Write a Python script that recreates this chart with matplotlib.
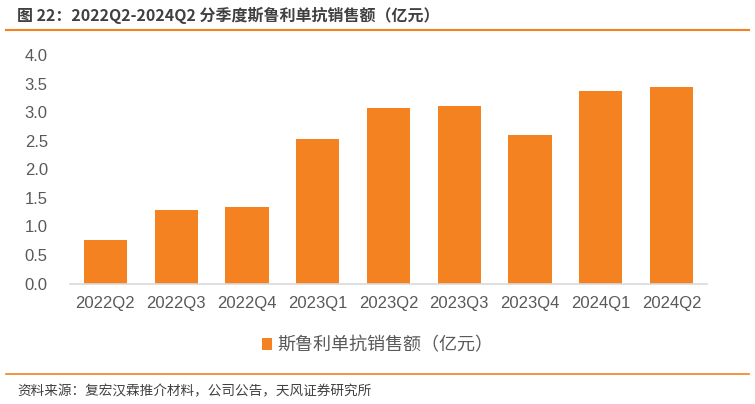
import matplotlib.pyplot as plt
from matplotlib.lines import Line2D

plt.rcParams['font.family'] = ['Liberation Sans', 'Noto Sans CJK SC', 'DejaVu Sans']

quarters = ['2022Q2', '2022Q3', '2022Q4', '2023Q1', '2023Q2',
            '2023Q3', '2023Q4', '2024Q1', '2024Q2']
sales = [0.76, 1.29, 1.34, 2.53, 3.08, 3.10, 2.60, 3.37, 3.44]

orange = '#F58220'
gray = '#595959'

fig = plt.figure(figsize=(7.55, 4.04), dpi=100)
ax = fig.add_axes([70 / 755, 1 - 283.5 / 404, 637 / 755, 228.5 / 404])

ax.bar(quarters, sales, width=0.61, color=orange, label='斯鲁利单抗销售额（亿元）')
ax.set_ylim(0, 4.0)
ax.set_yticks([0, 0.5, 1.0, 1.5, 2.0, 2.5, 3.0, 3.5, 4.0])
ax.set_yticklabels([f'{v:.1f}' for v in ax.get_yticks()])
ax.set_xlim(-0.5, len(quarters) - 0.5)
for s in ['top', 'right', 'left']:
    ax.spines[s].set_visible(False)
ax.spines['bottom'].set_color('#D9D9D9')
ax.spines['bottom'].set_linewidth(1.2)
ax.tick_params(axis='both', length=0, labelsize=12, colors=gray)
ax.tick_params(axis='x', pad=9)
ax.tick_params(axis='y', pad=16)

leg = ax.legend(loc='upper center', bbox_to_anchor=(0.483, -0.16), frameon=False,
                fontsize=13, handlelength=0.6, handleheight=0.6, handletextpad=0.3)
for t in leg.get_texts():
    t.set_color(gray)
    t.set_family(['Noto Sans CJK SC', 'DejaVu Sans'])

fig.text(17 / 755, 1 - 15 / 404, '图 22：2022Q2-2024Q2 分季度斯鲁利单抗销售额（亿元）',
         fontsize=11.5, fontweight='bold', color='#404040', va='center',
         family=['Noto Sans CJK SC', 'DejaVu Sans'])
fig.add_artist(Line2D([6 / 755, 749 / 755], [1 - 29.5 / 404, 1 - 29.5 / 404],
                      color=orange, linewidth=1.5, transform=fig.transFigure))
fig.add_artist(Line2D([6 / 755, 749 / 755], [1 - 374 / 404, 1 - 374 / 404],
                      color=orange, linewidth=1.2, transform=fig.transFigure))
fig.text(17 / 755, 1 - 391 / 404, '资料来源：复宏汉霖推介材料，公司公告，天风证券研究所',
         fontsize=9.8, color='#404040', va='center',
         family=['Noto Sans CJK SC', 'DejaVu Sans'])

fig.savefig('out.png', dpi=100)
